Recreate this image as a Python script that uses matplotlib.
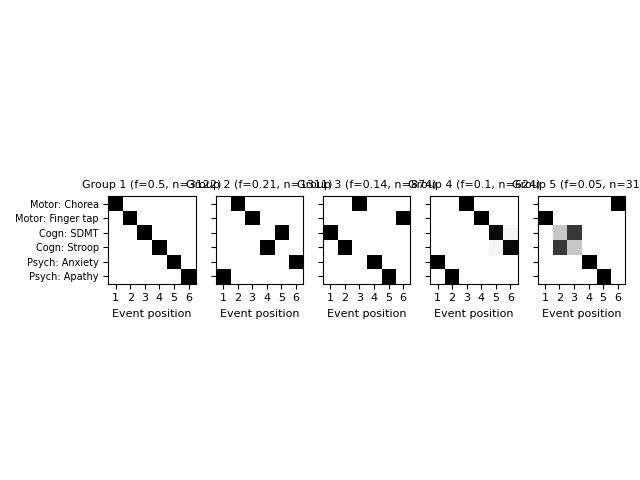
import numpy as np
import matplotlib
matplotlib.use("Agg")
import matplotlib.pyplot as plt

biomarkers = ["Motor: Chorea", "Motor: Finger tap", "Cogn: SDMT",
              "Cogn: Stroop", "Psych: Anxiety", "Psych: Apathy"]
positions = [1, 2, 3, 4, 5, 6]
fractions = [0.5, 0.21, 0.14, 0.1, 0.05]
counts = [3122, 1311, 874, 624, 312]

# probability of each biomarker (row) being at each event position (column)
group1 = np.array([
    [1, 0, 0, 0, 0, 0],
    [0, 1, 0, 0, 0, 0],
    [0, 0, 1, 0, 0, 0],
    [0, 0, 0, 1, 0, 0],
    [0, 0, 0, 0, 1, 0],
    [0, 0, 0, 0, 0, 1],
], dtype=float)
group2 = np.array([
    [0, 1, 0, 0, 0, 0],
    [0, 0, 1, 0, 0, 0],
    [0, 0, 0, 0, 1, 0],
    [0, 0, 0, 1, 0, 0],
    [0, 0, 0, 0, 0, 1],
    [1, 0, 0, 0, 0, 0],
], dtype=float)
group3 = np.array([
    [0, 0, 1, 0, 0, 0],
    [0, 0, 0, 0, 0, 1],
    [1, 0, 0, 0, 0, 0],
    [0, 1, 0, 0, 0, 0],
    [0, 0, 0, 1, 0, 0],
    [0, 0, 0, 0, 1, 0],
], dtype=float)
group4 = np.array([
    [0, 0, 1, 0, 0, 0],
    [0, 0, 0, 1, 0, 0],
    [0, 0, 0, 0, 0.96, 0.04],
    [0, 0, 0, 0, 0.04, 0.96],
    [1, 0, 0, 0, 0, 0],
    [0, 1, 0, 0, 0, 0],
], dtype=float)
group5 = np.array([
    [0, 0, 0, 0, 0, 1],
    [1, 0, 0, 0, 0, 0],
    [0, 0.22, 0.78, 0, 0, 0],
    [0, 0.78, 0.22, 0, 0, 0],
    [0, 0, 0, 1, 0, 0],
    [0, 0, 0, 0, 1, 0],
], dtype=float)
groups = [group1, group2, group3, group4, group5]

fig, axes = plt.subplots(1, 5, figsize=(6.4, 4.8), sharey=True)

for i, ax in enumerate(axes):
    ax.imshow(groups[i], cmap="gray_r", vmin=0, vmax=1, interpolation="nearest")
    ax.set_xticks(range(len(positions)))
    ax.set_xticklabels(positions)
    ax.set_xlabel("Event position", fontsize=8)
    ax.set_title("Group %d (f=%s, n=%d)" % (i + 1, fractions[i], counts[i]), fontsize=8)
    ax.tick_params(axis="x", labelsize=8)

axes[0].set_yticks(range(len(biomarkers)))
axes[0].set_yticklabels(biomarkers, fontsize=7)

fig.tight_layout()
fig.savefig("out.png", dpi=100)
